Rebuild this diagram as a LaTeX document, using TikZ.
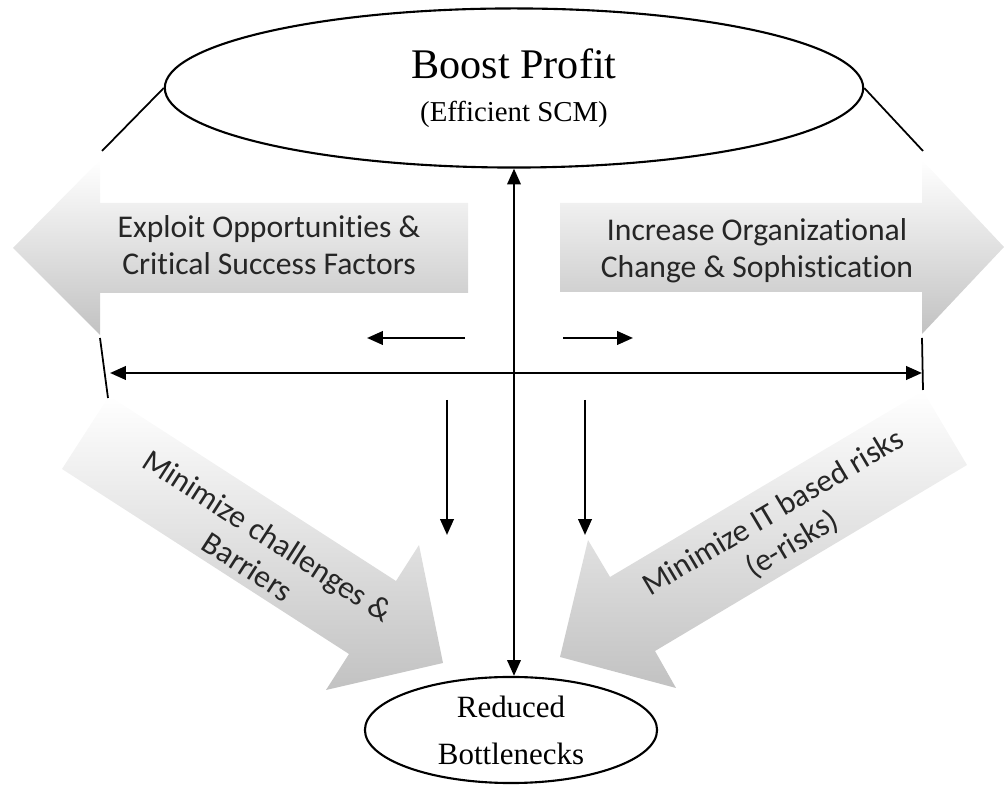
\documentclass[tikz,border=0pt]{standalone}
\usepackage{fontspec}
\setmainfont{Liberation Serif}
\newfontfamily\calfont{Carlito}[Ligatures=NoCommon]
\usetikzlibrary{arrows.meta}
\usetikzlibrary{shapes.geometric}

\begin{document}
\begin{tikzpicture}[x=0.01cm,y=-0.01cm,every ellipse node/.style={draw,line width=0.6pt,inner sep=0pt,align=center},
    bigarrow/.style={top color=white,bottom color=black!24,draw=none},
    arrtext/.style={font=\calfont\fontsize{9}{10.5}\selectfont,align=center,text=black!85},
    conn/.style={line width=0.7pt,-{Triangle[length=4.5pt,width=3.8pt]}},
    dblarrow/.style={line width=0.7pt,{Triangle[length=4.5pt,width=3.8pt]}-{Triangle[length=4.5pt,width=3.8pt]}}]
    \useasboundingbox (0,0) rectangle (1006,786);
    % shaded arrows
    \path[bigarrow] (13,248) -- (100,160) -- (100,203) -- (468,203) -- (468,293) -- (100,293) -- (100,335) -- cycle;
    \path[bigarrow] (1004,247) -- (922,160) -- (922,203) -- (560,203) -- (560,292) -- (922,292) -- (922,334) -- cycle;
    \path[bigarrow] (109,396) -- (396,581) -- (419,545) -- (443,663) -- (326,690) -- (349,654) -- (62,469) -- cycle;
    \path[bigarrow] (923,391) -- (610,577) -- (588,540) -- (560,657) -- (676,688) -- (655,651) -- (967,465) -- cycle;
    \node[arrtext] (exploit) at (269,245) {Exploit Opportunities \&\\Critical Success Factors};
    \node[arrtext] (increase) at (757,251) {Increase Organizational\\Change \& Sophistication};
    \node[arrtext,rotate=-32.8] (challenge) at (258,551) {Minimize challenges \&\\Barriers};
    \node[arrtext,rotate=30.7] (erisk) at (783,529) {Minimize IT based risks\\(e-risks)};
    % ellipses
    \node[ellipse,minimum width=6.98cm,minimum height=1.59cm,font=\fontsize{12}{12.2}\selectfont] (profit) at (514,88) {Boost Profit\\{\fontsize{8.2}{12.2}\selectfont (Efficient SCM)}};
    \node[ellipse,minimum width=2.92cm,minimum height=1.06cm,font=\fontsize{8.8}{13.4}\selectfont] (bottle) at (511,730) {Reduced\\Bottlenecks};
    % side lines
    \coordinate (lt) at (102,151);
    \coordinate (lb1) at (100,338);
    \coordinate (lb2) at (108,398);
    \coordinate (rt) at (923,151);
    \coordinate (rb1) at (922,338);
    \coordinate (rb2) at (923,390);
    \draw[line width=0.5pt] (profit.west) -- (lt);
    \draw[line width=0.5pt] (profit.east) -- (rt);
    \draw[line width=0.5pt] (lb1) -- (lb2);
    \draw[line width=0.5pt] (rb1) -- (rb2);
    % arrows
    \coordinate (hl) at (110,373);
    \coordinate (hr) at (922,373);
    \draw[dblarrow] (hl) -- (hr);
    \draw[dblarrow] (profit.south) -- (profit.south |- bottle.north);
    \coordinate (sl1) at (465,338);
    \coordinate (sl2) at (367,338);
    \coordinate (sr1) at (563,338);
    \coordinate (sr2) at (633,338);
    \coordinate (dl1) at (447,400);
    \coordinate (dl2) at (447,535);
    \coordinate (dr1) at (585,400);
    \coordinate (dr2) at (585,535);
    \draw[conn] (sl1) -- (sl2);
    \draw[conn] (sr1) -- (sr2);
    \draw[conn] (dl1) -- (dl2);
    \draw[conn] (dr1) -- (dr2);
\end{tikzpicture}
\end{document}
